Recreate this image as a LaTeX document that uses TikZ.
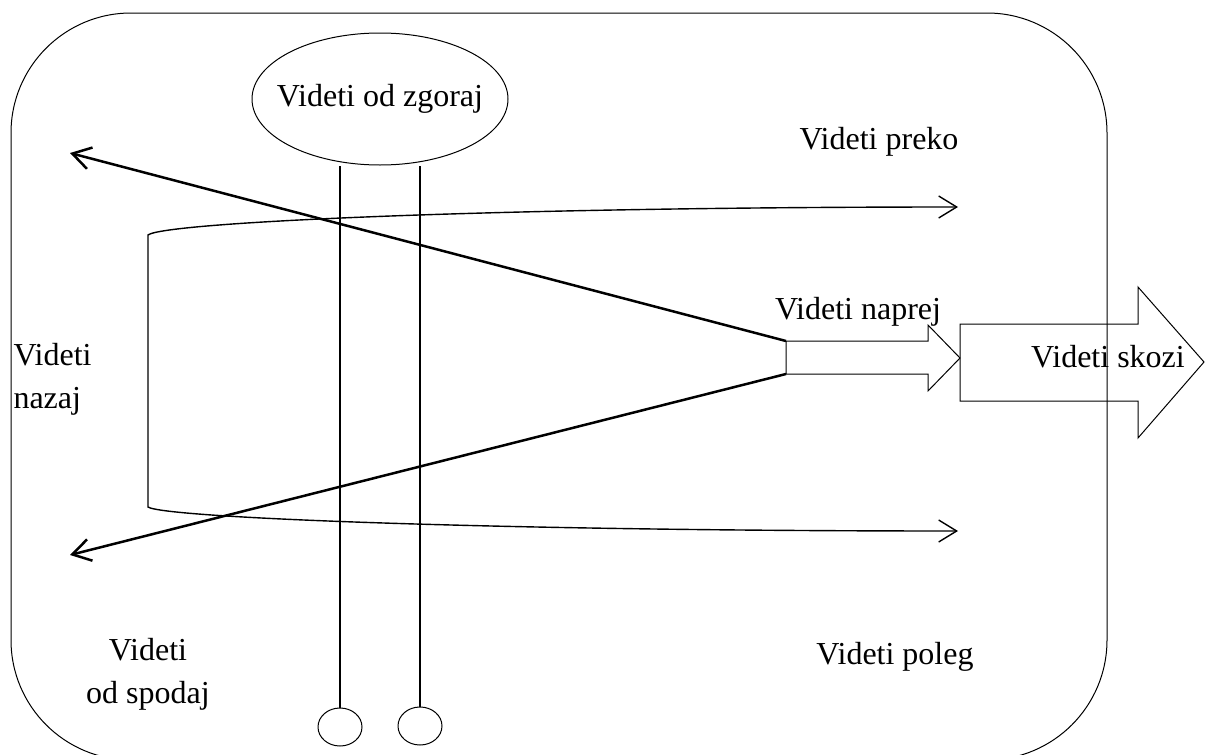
\documentclass[tikz,border=0pt]{standalone}
\usepackage{fontspec}
\setmainfont{Liberation Serif}
\usetikzlibrary{shapes.geometric,arrows.meta}

\begin{document}
\begin{tikzpicture}[x=1pt,y=-1pt,
  every node/.style={font=\fontsize{32}{43}\selectfont},
  barb/.tip={Straight Barb[length=18pt,width=22pt]},
  look/.style={line width=2.5pt,-barb},
  sweep/.style={line width=1.4pt,barb-barb},
  rod/.style={line width=2pt},
  fat/.style={line width=1pt}]
\useasboundingbox (0,0) rectangle (1205,755);

% outer frame
\draw[line width=1pt, rounded corners=120pt] (11,13) rectangle (1107,760);

% looking from above and from below
\node[draw, ellipse, line width=1pt, minimum width=256, minimum height=132,
  label=center:{Videti od zgoraj}] (zgoraj) at (380,99) {};
\node[draw, ellipse, line width=1pt, minimum width=44, minimum height=38, inner sep=0] (footl) at (340,727) {};
\node[draw, ellipse, line width=1pt, minimum width=44, minimum height=38, inner sep=0] (footr) at (420,726) {};
\draw[rod] (footl) -- (footl |- zgoraj.south);
\draw[rod] (footr) -- (footr |- zgoraj.south);

% looking back
\coordinate (wt) at (786,341);
\coordinate (wb) at (786,374);
\coordinate (backt) at (70,153);
\coordinate (backb) at (70,555);
\draw[look] (wt) -- (backt);
\draw[look] (wb) -- (backb);

% looking forward and through
\draw[fat] (wt) -- (928,341) -- (928,325) -- (960,358) -- (928,391) -- (928,374) -- (wb) -- cycle;
\draw[fat] (960,324) -- (1138,324) -- (1138,287) -- (1204,362) -- (1138,438) -- (1138,401) -- (960,401) -- cycle;

% looking over and beside
\coordinate (over) at (958,207);
\coordinate (beside) at (958,531);
\draw[sweep] (over) .. controls (500,207) and (165,222) .. (148,235)
  -- (148,507) .. controls (165,518) and (500,531) .. (beside);

\node (preko) at (879,142) {Videti preko};
\node (naprej) at (858,312) {Videti naprej};
\node (skozi) at (1108,357) {Videti skozi};
\node[align=left, anchor=west] (nazaj) at (10,379) {Videti\\nazaj};
\node[align=center] (spodaj) at (148,674) {Videti\\od spodaj};
\node (poleg) at (895,657) {Videti poleg};
\end{tikzpicture}
\end{document}
